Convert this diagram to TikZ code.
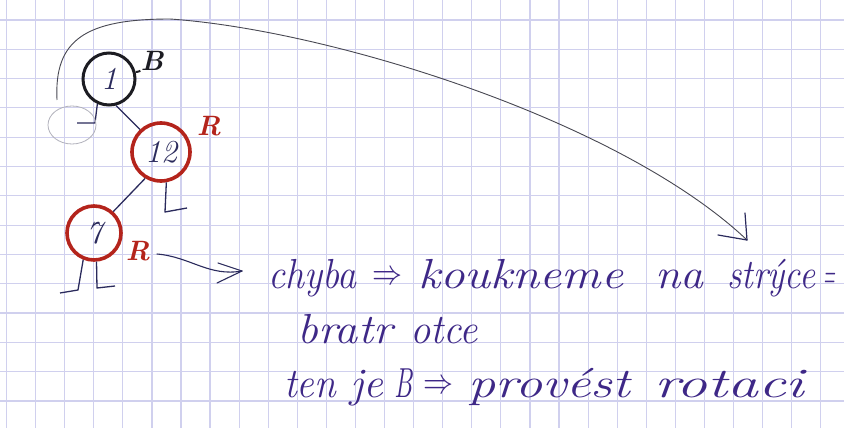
\documentclass[tikz,border=0pt]{standalone}
\usepackage{fontspec}
\definecolor{gridc}{RGB}{208,208,238}
\definecolor{ink}{RGB}{62,40,135}
\definecolor{redink}{RGB}{180,36,28}
\definecolor{pen}{RGB}{42,42,92}
\definecolor{blk}{RGB}{28,28,34}
\definecolor{curvec}{RGB}{72,72,82}
\definecolor{faint}{RGB}{178,178,188}
\newcommand\fitw[2]{\resizebox{#1pt}{\height}{#2}}
\newcommand\hwarrow{\resizebox{30pt}{13pt}{$\Rightarrow$}}
\tikzset{
  gridline/.style={gridc, line width=1.2pt},
  blackcirc/.style={circle, draw=blk, line width=3pt, inner sep=0pt, text=pen, font=\fontsize{32}{32}\selectfont\itshape},
  redcirc/.style={circle, draw=redink, line width=3.6pt, inner sep=0pt, text=pen, font=\fontsize{32}{32}\selectfont\itshape},
  colortag/.style={inner sep=0pt, font=\fontsize{28}{28}\selectfont\bfseries\itshape},
  edge/.style={pen, line width=1.3pt},
  leaf/.style={pen, line width=1.3pt, line join=round},
  bigcurve/.style={curvec, line width=0.9pt},
  handw/.style={ink, inner sep=0pt, anchor=base west, font=\fontsize{42}{44}\selectfont\itshape},
}
\begin{document}
\begin{tikzpicture}[x=1pt,y=-1pt]
\useasboundingbox (0,0) rectangle (844,428);
\fill[white] (0,0) rectangle (844,428);
% squared paper
\foreach \k in {0,...,28} \draw[gridline] ({6.5+29.08*\k},0) -- ({6.5+29.08*\k},428);
\foreach \j in {0,...,13} \draw[gridline] (0,{20+29.3*\j}) -- (844,{20+29.3*\j});

% tree nodes
\node[blackcirc, minimum size=52pt] (n1) at (109,79) {1};
\node[redcirc, minimum size=58pt] (n12) at (161,152) {12};
\node[redcirc, minimum size=54pt] (n7) at (94,233) {7};

% colour tags
\node[colortag, blk] (tB) at (152,61) {B};
\node[colortag, redink] (tR12) at (209,126) {R};
\node[colortag, redink] (tR7) at (138,251) {R};
\draw[blk, line width=2pt] (n1.15) to[out=-10,in=200] (tB.south west);

% edges
\draw[edge] (n1.-75) -- (n12.133);
\draw[edge] (n12.-121) -- (n7.48);

% nil leaves
\coordinate (l1a) at (95,123); \coordinate (l1b) at (77,123);
\draw[leaf] (n1.-115) -- (l1a) -- (l1b);
\draw[faint, line width=0.8pt] (72,125) ellipse [x radius=24, y radius=19];
\coordinate (l12a) at (165,212); \coordinate (l12b) at (187,208);
\draw[leaf] (n12.-80) -- (l12a) -- (l12b);
\coordinate (l7a) at (78,290); \coordinate (l7b) at (60,293);
\draw[leaf] (n7.-112) -- (l7a) -- (l7b);
\coordinate (l7c) at (97,288); \coordinate (l7d) at (115,286);
\draw[leaf] (n7.-85) -- (l7c) -- (l7d);

% big curved arrow
\coordinate (cs) at (57,100);
\coordinate (cm) at (170,19);
\coordinate (ce) at (747,240);
\draw[bigcurve] (cs) .. controls (54,40) and (85,19) .. (cm)
  .. controls (330,30) and (620,120) .. (ce);
\draw[pen, line width=1.2pt, line cap=round] (ce) -- ++(-29,-5);
\draw[pen, line width=1.2pt, line cap=round] (ce) -- ++(-2,-27);

% small arrow from R
\coordinate (as) at (157,254);
\coordinate (ae) at (242,271);
\draw[pen, line width=1.1pt, line cap=round] (as) to[out=-5,in=190] (ae);
\draw[pen, line width=1.1pt, line cap=round] (ae) -- ++(-24,-8);
\draw[pen, line width=1.1pt, line cap=round] (ae) -- ++(-25,12);

% handwritten text
\node[handw] (w1) at (268,288) {\fitw{88}{chyba}};
\node[handw] (w2) at (372,284) {\hwarrow};
\node[handw] (w3) at (418,288) {\fitw{205}{koukneme}};
\node[handw] (w4) at (655,288) {\fitw{48}{na}};
\node[handw] (w5) at (727,288) {\fitw{88}{strýce}};
\node[handw] (w6) at (823,288) {\fitw{12}{=}};
\node[handw] (w7) at (297,343) {\fitw{95}{bratr}};
\node[handw] (w8) at (410,343) {\fitw{68}{otce}};
\node[handw] (w9) at (284,397) {\fitw{52}{ten}};
\node[handw] (w10) at (350,397) {\fitw{33}{je}};
\node[handw] (w11) at (394,397) {\fitw{18}{B}};
\node[handw] (w12) at (423,393) {\hwarrow};
\node[handw] (w13) at (468,397) {\fitw{162}{provést}};
\node[handw] (w14) at (654,397) {\fitw{150}{rotaci}};
\end{tikzpicture}
\end{document}
